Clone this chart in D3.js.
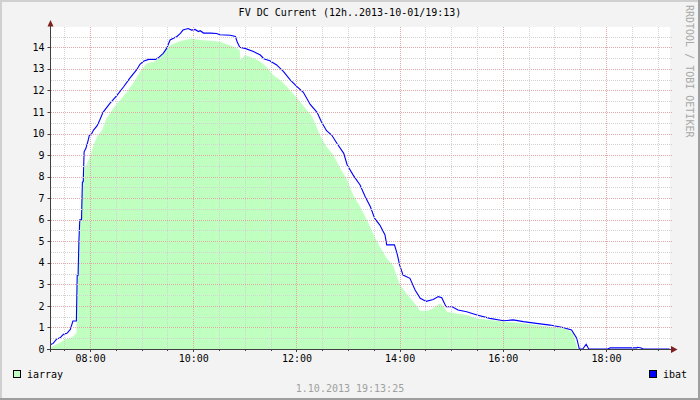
<!DOCTYPE html>
<html><head><meta charset="utf-8">
<script src="https://cdn.jsdelivr.net/npm/d3@7"></script>
<style>body{margin:0;background:#f3f3f3}svg{display:block}</style>
</head><body>
<svg id="c" width="700" height="400"></svg>
<script>
// ---- data ----
const ibatTimes = ["07:14","07:17","07:21","07:25","07:29","07:33","07:37","07:40","07:44","07:45","07:46","07:47","07:48","07:50","07:51","07:52","07:53","07:55","07:57","07:59","08:01","08:04","08:08","08:11","08:15","08:23","08:31","08:39","08:46","08:54","08:58","09:02","09:08","09:16","09:19","09:25","09:29","09:33","09:41","09:45","09:48","09:54","09:58","10:02","10:06","10:08","10:12","10:20","10:27","10:31","10:43","10:49","10:51","10:54","11:00","11:10","11:18","11:22","11:29","11:37","11:45","11:53","12:00","12:08","12:16","12:24","12:29","12:35","12:41","12:47","12:55","12:59","13:06","13:14","13:20","13:26","13:31","13:37","13:43","13:45","13:54","13:57","14:00","14:04","14:12","14:18","14:24","14:31","14:39","14:45","14:49","14:54","15:01","15:08","15:18","15:30","15:45","16:01","16:12","16:24","16:39","16:55","17:10","17:20","17:26","17:29","17:33","17:37","17:40","18:02","18:05","18:36","18:37","18:41","18:43","19:14"];
const ibatValues = [0.2,0.26,0.46,0.52,0.68,0.73,0.91,1.3,1.3,3.43,3.43,5.06,6.0,6.0,7.74,7.76,9.15,9.3,9.57,9.9,9.93,10.16,10.35,10.6,10.98,11.4,11.76,12.17,12.56,12.95,13.21,13.35,13.44,13.44,13.5,13.72,13.95,14.34,14.5,14.65,14.8,14.87,14.8,14.83,14.73,14.77,14.66,14.66,14.64,14.58,14.56,14.5,14.26,14.0,13.95,13.8,13.64,13.47,13.38,13.18,12.87,12.48,12.2,11.91,11.35,10.98,10.55,10.13,9.93,9.55,9.08,8.54,8.07,7.61,7.07,6.6,6.06,5.75,5.29,4.83,4.83,4.44,3.9,3.43,3.28,2.74,2.35,2.21,2.3,2.43,2.38,1.96,1.96,1.81,1.73,1.58,1.42,1.31,1.35,1.27,1.19,1.11,1.0,0.88,0.5,0,0,0.22,0,0,0.05,0.05,0.08,0.05,0,0];

const iarrayTimes = ["07:14","07:17","07:25","07:31","07:39","07:43","07:44","07:45","07:47","07:49","07:50","07:52","07:54","08:00","08:04","08:08","08:14","08:19","08:27","08:35","08:43","08:50","08:58","09:06","09:14","09:21","09:29","09:33","09:45","09:58","10:08","10:23","10:31","10:47","10:54","10:55","11:00","11:10","11:18","11:25","11:33","11:41","11:49","11:56","12:04","12:12","12:18","12:27","12:35","12:43","12:51","12:59","13:06","13:14","13:22","13:29","13:37","13:45","13:53","14:00","14:08","14:16","14:24","14:33","14:39","14:47","14:51","14:55","15:06","15:18","15:30","15:45","16:01","16:16","16:32","16:47","17:03","17:14","17:22","17:27","19:14"];
const iarrayValues = [0.03,0.14,0.29,0.45,0.54,0.7,0.73,2.43,5.06,6.0,6.9,7.84,8.4,8.92,9.47,9.85,10.16,10.7,11.17,11.55,11.94,12.33,12.87,13.25,13.33,13.49,13.95,14.1,14.29,14.41,14.34,14.29,14.26,14.03,13.87,13.4,13.64,13.49,13.33,13.1,12.71,12.48,12.17,11.86,11.48,11.09,10.8,9.95,9.39,9.0,8.39,7.84,7.15,6.6,5.99,5.37,4.75,4.21,3.82,3.0,2.58,2.19,1.78,1.78,1.89,2.12,1.96,1.73,1.65,1.58,1.42,1.35,1.27,1.22,1.15,1.07,0.99,0.93,0.73,0,0];

const yTickValues = [0,1,2,3,4,5,6,7,8,9,10,11,12,13,14];
const xTickLabels = ["08:00","10:00","12:00","14:00","16:00","18:00"];
const seriesNames = ["iarray","ibat"];
const titleText = "FV DC Current (12h..2013-10-01/19:13)";
const stampText = "1.10.2013 19:13:25";
const sideText = "RRDTOOL / TOBI OETIKER";
const timeStart = "07:14:30", timeEnd = "19:14:30";

// ---- drawing ----
const svg = d3.select("#c");
const FONT = "'DejaVu Sans Mono', monospace";
const parse = s => { const p = s.split(":").map(Number); return new Date(2013, 9, 1, p[0], p[1], p[2]||0); };
const L = 51, R = 670, T = 27, B = 349;
const x = d3.scaleTime().domain([parse(timeStart), parse(timeEnd)]).range([L, R]);
const y = d3.scaleLinear().domain([0, 15]).range([B, 25.75]);

// background + shade border
svg.append("rect").attr("width",700).attr("height",400).attr("fill","#f3f3f3");
svg.append("path").attr("d","M0,0H700V2H2V400H0Z").attr("fill","#d0d0d0");
svg.append("path").attr("d","M700,0V400H0V398H698V0Z").attr("fill","#9e9e9e");

// canvas
svg.append("rect").attr("x",L).attr("y",T).attr("width",R-L).attr("height",B-T).attr("fill","#ffffff");

svg.append("defs").append("clipPath").attr("id","clip")
  .append("rect").attr("x",L).attr("y",T-2).attr("width",R-L).attr("height",B-T+2);

const ibat = ibatTimes.map((t,i)=>({t:parse(t), v:ibatValues[i]}));
const iarray = iarrayTimes.map((t,i)=>({t:parse(t), v:iarrayValues[i]}));

const g = svg.append("g").attr("clip-path","url(#clip)");
g.append("path").datum(iarray)
  .attr("fill","#bfffbf")
  .attr("d", d3.area().x(d=>x(d.t)).y0(y(0)).y1(d=>y(d.v)));

// grid
const grid = svg.append("g");
const minorX = d3.timeMinute.every(30).range(parse(timeStart), parse(timeEnd));
minorX.forEach(d=>{
  const major = d.getMinutes()===0 && d.getHours()%2===0;
  const xx = Math.round(x(d))+0.5;
  grid.append("line").attr("x1",xx).attr("x2",xx).attr("y1",T).attr("y2",B)
    .attr("stroke", major ? "#e2a8a8" : "#d2d2d2").attr("stroke-dasharray","1,1");
});
d3.range(0.5, 15, 0.5).forEach(v=>{
  const major = Number.isInteger(v);
  const yy = Math.round(y(v))+0.5;
  grid.append("line").attr("x1",L).attr("x2",R+2).attr("y1",yy).attr("y2",yy)
    .attr("stroke", major ? "#e2a8a8" : "#d2d2d2").attr("stroke-dasharray","1,1");
});

g.append("path").datum(ibat)
  .attr("fill","none").attr("stroke","#0000ff").attr("stroke-width",1.1)
  .attr("d", d3.line().x(d=>x(d.t)).y(d=>y(d.v)));

// axes
const ax = svg.append("g");
ax.append("line").attr("x1",50.5).attr("x2",50.5).attr("y1",B+3).attr("y2",22).attr("stroke","#404040");
ax.append("line").attr("x1",47).attr("x2",672).attr("y1",B+0.5).attr("y2",B+0.5).attr("stroke","#404040");
ax.append("path").attr("d","M47.5,26.5L53.5,26.5L50.5,20Z").attr("fill","#7f1f1f");
ax.append("path").attr("d","M671,346L671,353L677.5,349.5Z").attr("fill","#7f1f1f");
yTickValues.forEach(v=>{
  const yy = Math.round(y(v))+0.5;
  ax.append("line").attr("x1",47.5).attr("x2",50.5).attr("y1",yy).attr("y2",yy).attr("stroke","#404040");
  ax.append("text").attr("x",44.5).attr("y",y(v)+3.6).attr("text-anchor","end")
    .attr("font-family",FONT).attr("font-size",10).attr("fill","#000").text(v);
});
minorX.forEach(d=>{
  const major = d.getMinutes()===0 && d.getHours()%2===0;
  const xx = Math.round(x(d))+0.5;
  ax.append("line").attr("x1",xx).attr("x2",xx).attr("y1",B).attr("y2",B+(major?3:2)).attr("stroke","#404040");
});
xTickLabels.forEach(s=>{
  ax.append("text").attr("x",x(parse(s))+0.5).attr("y",362).attr("text-anchor","middle")
    .attr("font-family",FONT).attr("font-size",10).attr("fill","#000").text(s);
});

// title
svg.append("text").attr("x",350).attr("y",15.5).attr("text-anchor","middle")
  .attr("font-family",FONT).attr("font-size",10).attr("fill","#000").text(titleText);

// side text
svg.append("text").attr("transform","translate(686,5) rotate(90)")
  .attr("font-family",FONT).attr("font-size",10).attr("fill","#a8a8a8").text(sideText);

// legend
const legendColors = ["#bfffbf","#0000ff"];
const legendX = [13.5, 649.5];
seriesNames.forEach((n,i)=>{
  svg.append("rect").attr("x",legendX[i]).attr("y",370.5).attr("width",7).attr("height",7)
    .attr("fill",legendColors[i]).attr("stroke","#000");
  svg.append("text").attr("x",legendX[i]+13.5).attr("y",378)
    .attr("font-family",FONT).attr("font-size",10).attr("fill","#000").text(n);
});

// stamp
svg.append("text").attr("x",350).attr("y",391.5).attr("text-anchor","middle")
  .attr("font-family",FONT).attr("font-size",10).attr("fill","#a0a0a0").text(stampText);
</script>
</body></html>
